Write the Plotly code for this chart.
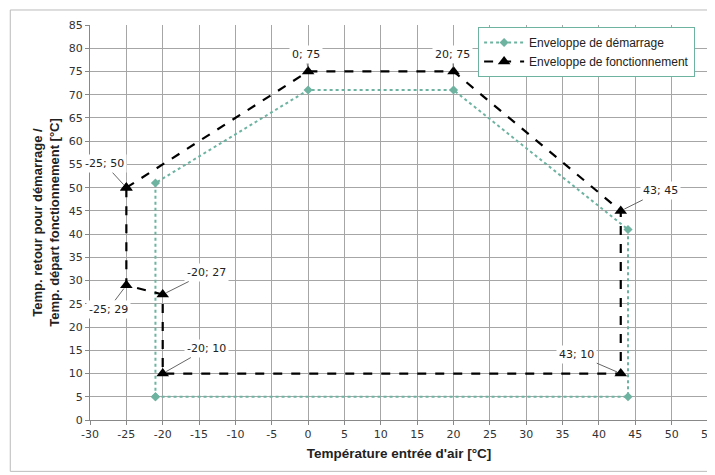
import plotly.graph_objects as go

# Start envelope (Enveloppe de démarrage)
start_x = [-21, -21, 0, 20, 44, 44, -21]
start_y = [5, 51, 71, 71, 41, 5, 5]

# Operating envelope (Enveloppe de fonctionnement)
oper_x = [-25, 0, 20, 43, 43, -20, -20, -25, -25]
oper_y = [50, 75, 75, 45, 10, 10, 27, 29, 50]

# Labelled points and label offsets (pixels)
label_x = [-25, -25, -20, -20, 0, 20, 43, 43]
label_y = [50, 29, 27, 10, 75, 75, 45, 10]
label_ax = [-22, -18, 44, 44, -2, -1, 40, -44]
label_ay = [-24, 24, -22, -25, -17, -17, -20, -19]

x_ticks = list(range(-30, 56, 5))
y_ticks = list(range(0, 86, 5))
x_ticktext = [str(v) for v in x_ticks]
y_ticktext = [str(v) for v in y_ticks]

teal = "#6DB3A0"

fig = go.Figure()
fig.add_trace(go.Scatter(
    x=start_x, y=start_y, mode="lines+markers",
    name="Enveloppe de démarrage",
    line=dict(color=teal, width=2, dash="dot"),
    marker=dict(symbol="diamond", size=7, color=teal),
))
fig.add_trace(go.Scatter(
    x=oper_x, y=oper_y, mode="lines+markers",
    name="Enveloppe de fonctionnement",
    line=dict(color="black", width=2.2, dash="dash"),
    marker=dict(symbol="triangle-up", size=11, color="black"),
))

for x, y, ax, ay in zip(label_x, label_y, label_ax, label_ay):
    fig.add_annotation(
        x=x, y=y, text=f"{x}; {y}", showarrow=True, arrowhead=0,
        arrowwidth=1, arrowcolor="#666666", ax=ax, ay=ay,
        bgcolor="white", borderpad=2, standoff=4,
        font=dict(family="DejaVu Sans", size=11, color="#222222"),
    )

fig.add_shape(type="rect", xref="paper", yref="paper",
              x0=-0.129, x1=1.008, y0=-0.13, y1=1.038,
              line=dict(color="#BBBBBB", width=1), layer="below")

axis_common = dict(
    showgrid=True, gridcolor="#A6A6A6", gridwidth=1,
    showline=True, linecolor="#888888", linewidth=1,
    ticks="outside", ticklen=4, tickcolor="#888888",
    zeroline=False, automargin=False,
    tickfont=dict(family="DejaVu Sans", size=11, color="#333333"),
)

# page body has an 8px default margin, so the figure is sized/offset to compensate
fig.update_layout(
    width=707, height=467,
    margin=dict(l=82, r=7, t=17, b=55),
    paper_bgcolor="white", plot_bgcolor="white",
    showlegend=True,
    legend=dict(x=0.628, y=0.995, xanchor="left", yanchor="top",
                bgcolor="white", bordercolor=teal, borderwidth=1,
                font=dict(family="Liberation Sans", size=12, color="#222222"),
                itemwidth=40, tracegroupgap=6),
    xaxis=dict(range=[-30, 55], tickvals=x_ticks, ticktext=x_ticktext,
               title=dict(text="<b>Température entrée d'air [°C]</b>",
                          font=dict(family="Liberation Sans", size=13.5, color="#222222"),
                          standoff=8),
               **axis_common),
    yaxis=dict(range=[0, 85], tickvals=y_ticks, ticktext=y_ticktext,
               title=dict(text="<b>Temp. retour pour démarrage /<br>Temp. départ fonctionnement [°C]</b>",
                          font=dict(family="Liberation Sans", size=13, color="#222222"),
                          standoff=6),
               **axis_common),
)

fig.write_html("out.html")
